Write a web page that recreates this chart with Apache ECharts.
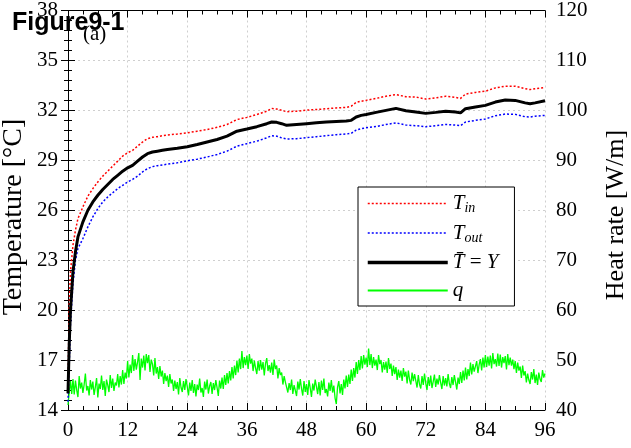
<!DOCTYPE html>
<html>
<head>
<meta charset="utf-8">
<script src="https://cdn.jsdelivr.net/npm/echarts@6/dist/echarts.min.js"></script>
<style>html,body{margin:0;padding:0;background:#fff}#c{width:631px;height:448px}</style>
</head>
<body>
<div id="c"></div>
<script>
// ---- data ----
const xTicks = [0, 12, 24, 36, 48, 60, 72, 84, 96];
const tempTicks = [14, 17, 20, 23, 26, 29, 32, 35, 38];
const heatTicks = [40, 50, 60, 70, 80, 90, 100, 110, 120];

const tempTime = [0, 0.25, 0.5, 1, 1.5, 2, 3, 4, 5, 6, 7, 8, 9, 10, 11, 12, 13, 14, 15, 16, 17, 18, 19, 20,
  22, 24, 26, 28, 30, 32, 34, 36, 38, 40, 41, 42, 43, 44, 46, 48, 50, 52, 54, 56, 57, 58, 59, 60,
  62, 64, 66, 68, 70, 72, 74, 76, 78, 79, 80, 82, 84, 86, 88, 90, 92, 93, 94, 96];

const tIn = [15.5, 20.3, 22.3, 23.9, 24.8, 25.5, 26.2, 26.85, 27.3, 27.7,
  28.05, 28.35, 28.65, 28.95, 29.25, 29.45, 29.6, 29.85, 30.1, 30.3,
  30.38, 30.42, 30.48, 30.52, 30.58, 30.65, 30.75, 30.85, 30.98, 31.15,
  31.45, 31.58, 31.75, 31.95, 32.12, 32.08, 32.0, 31.92, 31.95, 32.02,
  32.05, 32.1, 32.15, 32.18, 32.25, 32.48, 32.55, 32.6, 32.72, 32.85,
  32.95, 32.82, 32.8, 32.68, 32.75, 32.85, 32.78, 32.72, 32.98, 33.08,
  33.15, 33.35, 33.45, 33.45, 33.3, 33.25, 33.3, 33.38];

const tOut = [14.5, 16.8, 19.2, 21.6, 23.0, 23.7, 24.3, 25.0, 25.6, 26.1,
  26.5, 26.8, 27.05, 27.3, 27.5, 27.7, 27.85, 28.05, 28.3, 28.5,
  28.62, 28.68, 28.72, 28.77, 28.85, 28.97, 29.07, 29.2, 29.35, 29.55,
  29.85, 30.0, 30.15, 30.35, 30.48, 30.45, 30.35, 30.28, 30.3, 30.36,
  30.42, 30.48, 30.54, 30.58, 30.62, 30.82, 30.9, 30.95, 31.03, 31.15,
  31.25, 31.12, 31.08, 31.02, 31.08, 31.15, 31.12, 31.08, 31.3, 31.4,
  31.48, 31.68, 31.78, 31.76, 31.62, 31.6, 31.65, 31.7];

const tBar = [15.0, 18.0, 20.0, 22.3, 23.5, 24.4, 25.3, 26.0, 26.5, 26.9,
  27.25, 27.55, 27.85, 28.1, 28.35, 28.55, 28.7, 28.95, 29.2, 29.4,
  29.5, 29.55, 29.6, 29.65, 29.72, 29.82, 29.95, 30.1, 30.25, 30.45,
  30.75, 30.88, 31.02, 31.2, 31.3, 31.28, 31.2, 31.1, 31.15, 31.2,
  31.25, 31.3, 31.33, 31.36, 31.4, 31.6, 31.7, 31.75, 31.88, 32.0,
  32.12, 31.98, 31.9, 31.82, 31.88, 31.95, 31.9, 31.85, 32.1, 32.2,
  32.3, 32.5, 32.62, 32.6, 32.45, 32.4, 32.45, 32.58];

// heat rate q [W/m], one reading every 0.25 h from t = 0
const qStep = 0.25;
const qVals = [
  41.0, 43.5, 45.8, 43.2,  46.2, 43.1, 45.9, 44.0,  42.6, 46.8, 44.3, 45.5,  43.4, 45.1, 47.3, 43.9,
  44.8, 42.9, 46.0, 44.1,  45.7, 43.0, 44.6, 46.4,  42.5, 45.3, 44.2, 46.9,  44.0, 45.8, 42.8, 46.1,
  45.0, 43.6, 47.0, 44.4,  46.3, 43.8, 45.5, 44.9,  47.2, 44.5, 46.8, 45.1,  48.0, 45.2, 47.5, 46.3,
  49.8, 46.5, 49.1, 47.4,  51.0, 47.8, 50.2, 48.1,  49.6, 51.4, 46.0, 50.3,  48.5, 50.9, 47.9, 51.2,
  49.4, 51.0, 47.6, 50.1,  49.2, 46.9, 50.4, 47.3,  48.6, 46.2, 48.8, 46.7,  47.9, 45.2, 47.4, 45.8,
  46.9, 44.6, 47.2, 45.3,  46.1, 43.8, 45.9, 44.2,  45.6, 43.1, 46.4, 44.5,  43.6, 45.8, 44.0, 46.2,
  44.7, 42.9, 45.5, 43.8,  46.0, 43.4, 45.2, 42.7,  45.1, 44.0, 46.3, 43.5,  44.4, 42.6, 45.7, 44.1,
  46.1, 43.3, 44.8, 45.6,  43.2, 45.4, 44.0, 46.0,  44.5, 42.8, 45.9, 44.3,  46.5, 44.2, 47.0, 45.0,
  47.4, 45.3, 47.8, 45.9,  48.6, 46.3, 48.9, 47.0,  49.9, 47.5, 50.3, 48.2,  51.8, 48.4, 50.6, 49.0,
  50.9, 48.2, 51.2, 49.3,  50.3, 47.8, 49.9, 48.4,  47.2, 49.8, 47.9, 50.0,  48.1, 49.6, 46.9, 49.3,
  50.4, 47.8, 49.0, 47.5,  49.5, 47.0, 50.1, 48.2,  48.9, 46.3, 48.4, 47.0,  47.5, 45.1, 46.8, 45.6,
  45.9, 43.5, 45.4, 44.0,  46.1, 43.2, 45.0, 44.6,  42.8, 45.7, 44.1, 46.2,  44.3, 42.9, 45.8, 43.6,
  45.2, 43.0, 46.0, 44.4,  42.6, 45.3, 43.9, 46.1,  44.7, 43.2, 45.6, 42.9,  45.9, 44.0, 46.3, 43.4,
  44.2, 42.7, 45.5, 43.8,  46.0, 43.5, 44.9, 42.4,  41.2, 44.6, 45.8, 43.3,  45.2, 43.0, 46.1, 44.3,
  46.9, 44.6, 47.1, 45.2,  48.1, 45.8, 48.4, 46.5,  49.6, 47.2, 50.0, 48.0,  50.8, 48.3, 51.0, 49.1,
  50.5, 48.6, 52.3, 49.0,  51.2, 48.4, 50.6, 48.9,  50.1, 48.0, 51.0, 49.2,  50.0, 47.5, 49.6, 48.1,
  49.7, 47.4, 50.4, 48.2,  49.3, 46.8, 48.9, 47.2,  48.6, 46.0, 48.1, 46.5,  47.9, 45.8, 48.4, 46.7,
  47.7, 45.3, 47.9, 46.0,  45.1, 47.5, 45.8, 47.2,  46.9, 44.5, 47.0, 45.1,  44.3, 46.8, 45.0, 47.3,
  45.4, 44.0, 46.6, 44.8,  46.9, 44.4, 45.7, 47.1,  44.6, 46.3, 45.1, 47.0,  45.5, 44.2, 46.8, 44.9,
  46.4, 44.7, 47.2, 45.3,  44.4, 46.6, 45.0, 47.0,  45.6, 44.1, 46.5, 45.2,  47.6, 45.4, 47.9, 45.9,
  48.5, 46.1, 48.2, 46.8,  49.5, 47.1, 49.2, 47.7,  48.0, 49.8, 47.4, 49.1,  50.2, 47.9, 50.5, 48.5,
  51.0, 48.6, 50.7, 48.9,  50.9, 48.3, 51.4, 49.2,  50.2, 48.7, 51.3, 48.8,  51.1, 48.5, 50.6, 49.4,
  50.8, 48.1, 51.2, 49.0,  50.5, 48.9, 50.1, 48.2,  49.8, 47.4, 49.5, 47.9,  48.7, 46.4, 48.9, 46.9,
  47.8, 45.5, 47.3, 46.0,  45.2, 47.6, 46.1, 48.2,  45.4, 47.1, 45.0, 47.5,  46.2, 45.6, 48.0, 46.5,
  47.3
];

// ---- build ----
const TEMP_BASE = tempTicks[0];
const tempStep = tempTicks[1] - tempTicks[0];
const toPairs = (arr) => tempTime.map((t, i) => [t, arr[i] - TEMP_BASE]);
const qData = qVals.map((v, i) => [i * qStep, v]);

const serif = 'Liberation Serif';
const axisCommon = {
  axisLine: { show: true, lineStyle: { color: '#000', width: 1 } },
  axisTick: { show: true, inside: true, length: 7, lineStyle: { color: '#000' } },
  minorTick: { show: true, length: 4, lineStyle: { color: '#000' } },
  axisLabel: { color: '#000', fontFamily: serif, fontSize: 21 }
};
const gridLine = { show: true, lineStyle: { color: '#cfcfcf', width: 1, type: [2, 3] } };
const noSymbol = { color: 'rgba(0,0,0,0)', borderWidth: 0, opacity: 0 };

const chart = echarts.init(document.getElementById('c'), null, { renderer: 'canvas' });
chart.setOption({
  animation: false,
  backgroundColor: '#fff',
  title: {
    text: 'Figure9-1', left: 12, top: 11, padding: 0,
    textStyle: { fontFamily: 'Liberation Sans', fontWeight: 'bold', fontSize: 25, color: '#000' }
  },
  grid: { left: 68, right: 86, top: 8, bottom: 38, containLabel: false },
  xAxis: [
    Object.assign({}, axisCommon, {
      type: 'value', min: xTicks[0], max: xTicks[xTicks.length - 1], interval: xTicks[1] - xTicks[0],
      minorTick: Object.assign({}, axisCommon.minorTick, { splitNumber: 4 }),
      axisLabel: Object.assign({}, axisCommon.axisLabel, { margin: 10 }),
      splitLine: gridLine
    }),
    Object.assign({}, axisCommon, {
      type: 'value', position: 'top', min: xTicks[0], max: xTicks[xTicks.length - 1], interval: xTicks[1] - xTicks[0],
      minorTick: Object.assign({}, axisCommon.minorTick, { splitNumber: 4 }),
      axisLabel: { show: false }, splitLine: { show: false }
    })
  ],
  yAxis: [
    Object.assign({}, axisCommon, {
      type: 'value', min: 0, max: tempTicks[tempTicks.length - 1] - TEMP_BASE, interval: tempStep,
      minorTick: Object.assign({}, axisCommon.minorTick, { splitNumber: 5 }),
      axisLabel: Object.assign({}, axisCommon.axisLabel, { margin: 10, formatter: v => String(v + TEMP_BASE) }),
      splitLine: gridLine
    }),
    Object.assign({}, axisCommon, {
      type: 'value', position: 'right', min: heatTicks[0], max: heatTicks[heatTicks.length - 1],
      interval: heatTicks[1] - heatTicks[0],
      minorTick: Object.assign({}, axisCommon.minorTick, { splitNumber: 5 }),
      axisLabel: Object.assign({}, axisCommon.axisLabel, { margin: 11 }),
      splitLine: { show: false }
    })
  ],
  legend: {
    orient: 'vertical', left: 358, top: 187, padding: [6, 16, 5, 8],
    itemWidth: 80, itemHeight: 20, itemGap: 7,
    backgroundColor: '#fff', borderColor: '#000', borderWidth: 1, borderRadius: 0,
    itemStyle: noSymbol,
    textStyle: {
      color: '#000', fontFamily: serif, fontSize: 21,
      rich: {
        i: { fontFamily: serif, fontStyle: 'italic', fontSize: 21, lineHeight: 24, color: '#000' },
        s: { fontFamily: serif, fontStyle: 'italic', fontSize: 14, lineHeight: 14, verticalAlign: 'bottom', color: '#000' },
        n: { fontFamily: serif, fontSize: 21, lineHeight: 24, color: '#000' }
      }
    },
    formatter: function (name) {
      return {
        'T_in': '{i|T}{s|in}',
        'T_out': '{i|T}{s|out}',
        'Tbar': '{i|T\u0304}{n| = }{i|Y}',
        'q': '{i|q}'
      }[name];
    },
    data: [
      { name: 'T_in', lineStyle: { width: 1.5 }, itemStyle: noSymbol },
      { name: 'T_out', lineStyle: { width: 1.5 }, itemStyle: noSymbol },
      { name: 'Tbar', lineStyle: { width: 3.5 }, itemStyle: noSymbol },
      { name: 'q', lineStyle: { width: 2 }, itemStyle: noSymbol }
    ]
  },
  graphic: [
    { type: 'text', left: 83, top: 24, z: 1, style: { text: '(a)', fontFamily: serif, fontSize: 21, fill: '#000' } },
    { type: 'text', x: 14, y: 217, rotation: Math.PI / 2,
      style: { text: 'Temperature [\u00B0C]', fontFamily: serif, fontSize: 28, fill: '#000', align: 'center', verticalAlign: 'middle' } },
    { type: 'text', x: 616, y: 215, rotation: Math.PI / 2,
      style: { text: 'Heat rate [W/m]', fontFamily: serif, fontSize: 26, fill: '#000', align: 'center', verticalAlign: 'middle' } }
  ],
  series: [
    { name: 'q', type: 'line', xAxisIndex: 0, yAxisIndex: 1, data: qData, symbol: 'none', showSymbol: false,
      lineStyle: { color: '#00ff00', width: 1.3 }, itemStyle: { color: '#00ff00' }, z: 2 },
    { name: 'T_out', type: 'line', xAxisIndex: 0, yAxisIndex: 0, data: toPairs(tOut), symbol: 'none', showSymbol: false,
      lineStyle: { color: '#0000ff', width: 1.5, type: [2, 2] }, itemStyle: { color: '#0000ff' }, z: 3 },
    { name: 'T_in', type: 'line', xAxisIndex: 0, yAxisIndex: 0, data: toPairs(tIn), symbol: 'none', showSymbol: false,
      lineStyle: { color: '#ff0000', width: 1.5, type: [2, 2] }, itemStyle: { color: '#ff0000' }, z: 3 },
    { name: 'Tbar', type: 'line', xAxisIndex: 0, yAxisIndex: 0, data: toPairs(tBar), symbol: 'none', showSymbol: false,
      lineStyle: { color: '#000000', width: 3 }, itemStyle: { color: '#000000' }, z: 4 }
  ]
});
</script>
</body>
</html>
